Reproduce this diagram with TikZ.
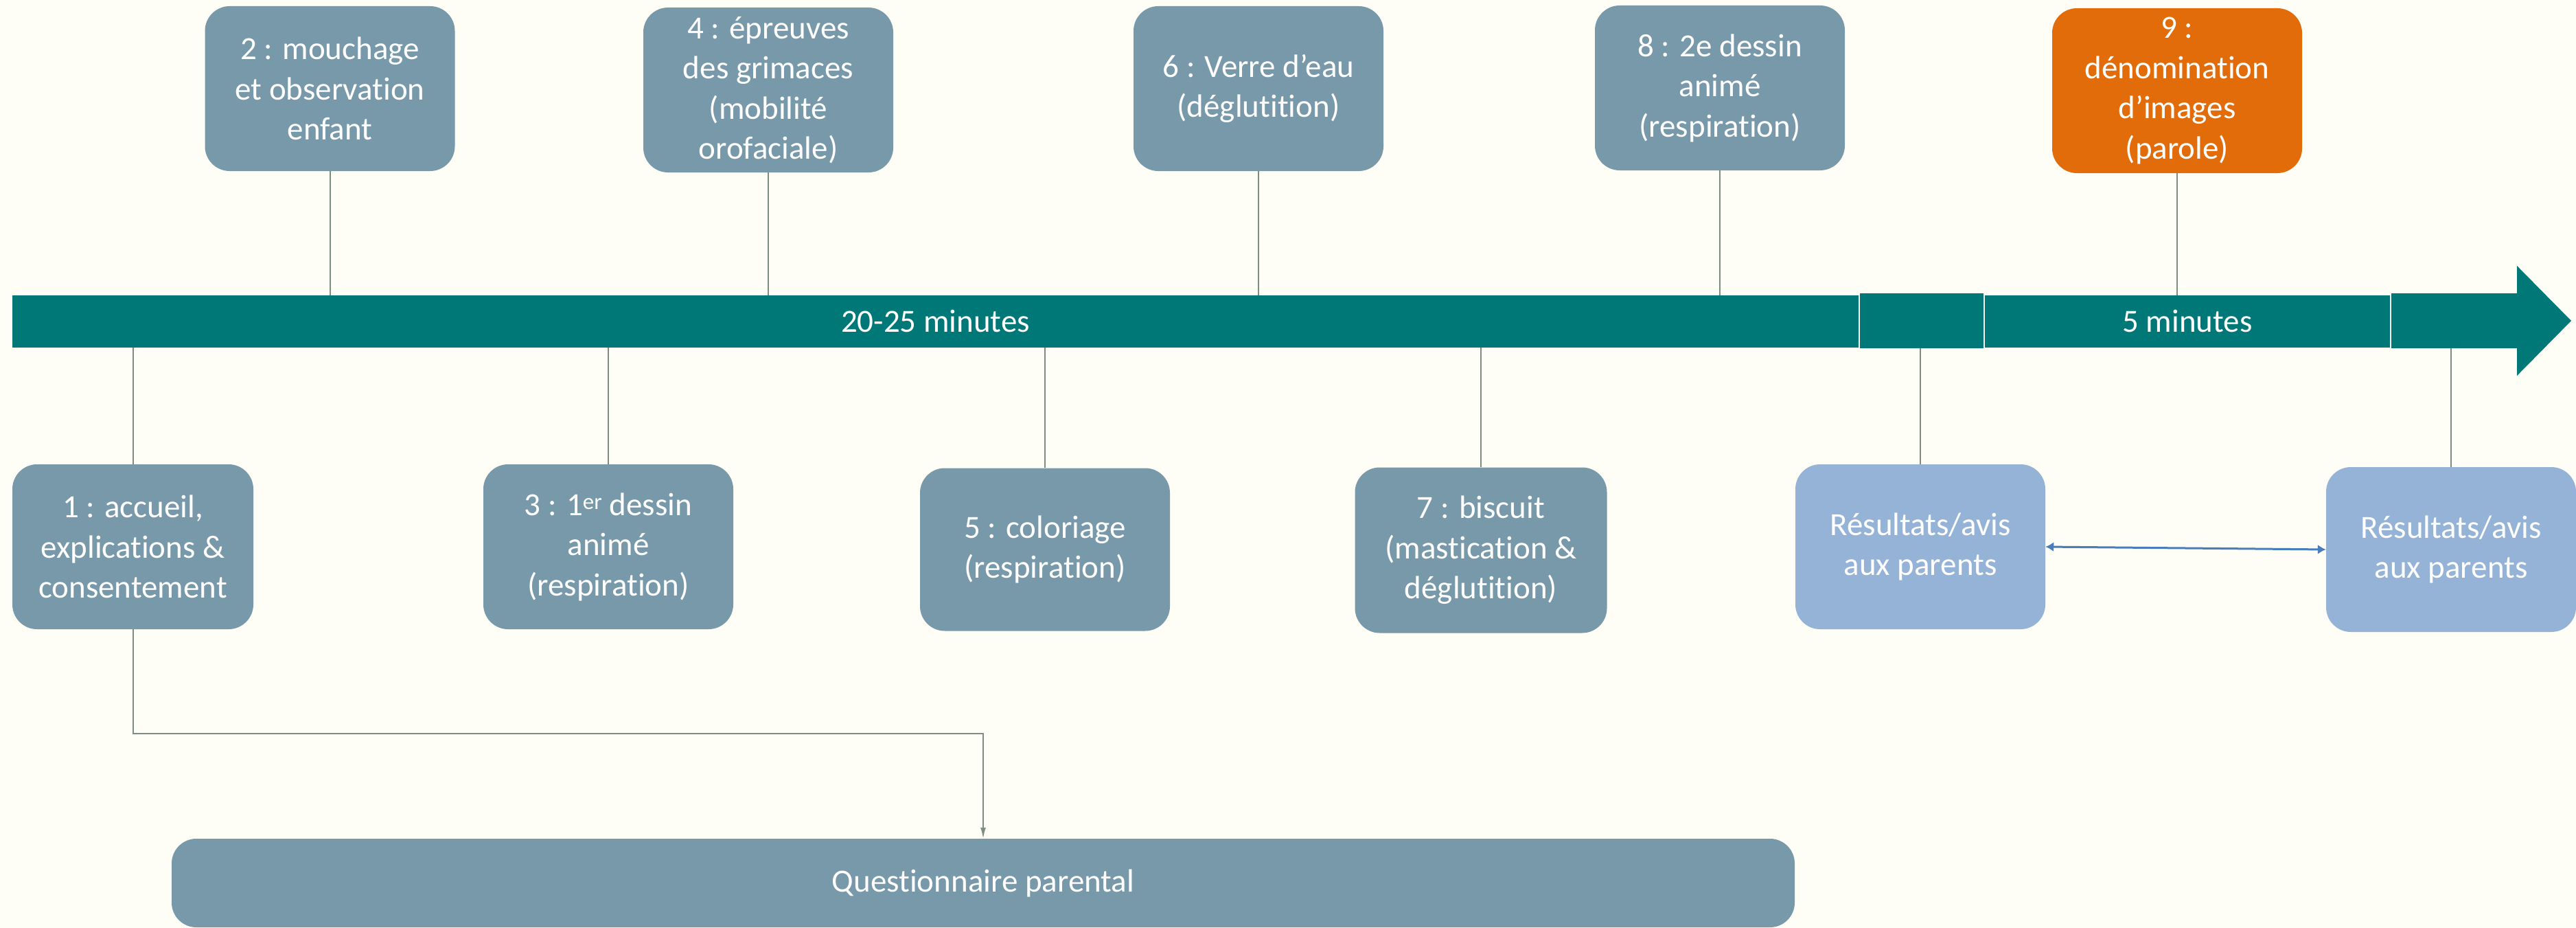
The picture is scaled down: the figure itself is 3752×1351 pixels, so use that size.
\documentclass[tikz,border=0pt]{standalone}
\usepackage{fontspec}
\setmainfont{Carlito}[Ligatures=NoCommon]
\usetikzlibrary{arrows.meta}
\definecolor{bgcream}{HTML}{FEFDF6}
\definecolor{stepgray}{HTML}{7899AA}
\definecolor{barteal}{HTML}{007877}
\definecolor{steporange}{HTML}{E36C0A}
\definecolor{resblue}{HTML}{95B3D7}
\definecolor{connline}{HTML}{7C8E7E}
\definecolor{arrowblue}{HTML}{4A7EBB}
\begin{document}
\begin{tikzpicture}[x=1pt,y=-1pt,
  txt/.style={text=white, align=center, font=\fontsize{47}{58.5}\selectfont, inner sep=0pt},
  stepbox/.style={txt, fill=stepgray, rounded corners=36pt, minimum width=364pt, minimum height=240pt},
  orangebox/.style={stepbox, fill=steporange},
  resbox/.style={stepbox, fill=resblue},
  barseg/.style={txt, fill=barteal, minimum height=76pt},
  conn/.style={draw=connline, line width=2pt}]

% canvas
\fill[bgcream] (0,0) rectangle (3752,1351);
\useasboundingbox (0,0) rectangle (3752,1351);

% time axis
\node[barseg, minimum width=2689pt] (s1) at (1362.5,468) {\raisebox{-4pt}{20-25 minutes}};
\node[barseg, minimum width=180pt, minimum height=80pt] (s2) at (2799,467) {};
\node[barseg, minimum width=590pt] (s3) at (3186,468) {\raisebox{-4pt}{5 minutes}};
\node[barseg, minimum width=183pt, minimum height=80pt] (s4) at (3574.5,467) {};
\fill[barteal] (s4.north east) -- (3666,387) -- (3745,467) -- (3666,547) -- (s4.south east) -- cycle;

% steps above the axis
\node[stepbox] (b2) at (480.5,129) {2 : mouchage\\et observation\\enfant};
\node[stepbox] (b4) at (1119,131) {4 : épreuves\\des grimaces\\(mobilité\\orofaciale)};
\node[stepbox] (b6) at (1833,129) {6 : Verre d’eau\\(déglutition)};
\node[stepbox] (b8) at (2505,128) {8 : 2e dessin\\animé\\(respiration)};
\node[orangebox] (b9) at (3171,132) {9 :\\dénomination\\d’images\\(parole)};

% steps below the axis
\node[stepbox, minimum width=351pt] (b1) at (193.5,796) {1 : accueil,\\explications \&\\consentement};
\node[stepbox] (b3) at (886,796) {3 : 1\textsuperscript{er} dessin\\animé\\(respiration)};
\node[stepbox, minimum height=237pt] (b5) at (1522,800) {5 : coloriage\\(respiration)};
\node[stepbox, minimum width=367pt, minimum height=241pt] (b7) at (2157,801) {7 : biscuit\\(mastication \&\\déglutition)};
\node[resbox] (r1) at (2797,796) {Résultats/avis\\aux parents};
\node[resbox] (r2) at (3570,800) {Résultats/avis\\aux parents};

% questionnaire
\node[stepbox, minimum width=2364pt, minimum height=129pt] (q) at (1432,1285.5) {Questionnaire parental};

% ticks to the axis
\draw[conn] (b2.south) -- (b2.south |- s1.north);
\draw[conn] (b4.south) -- (b4.south |- s1.north);
\draw[conn] (b6.south) -- (b6.south |- s1.north);
\draw[conn] (b8.south) -- (b8.south |- s1.north);
\draw[conn] (b9.south) -- (b9.south |- s3.north);
\draw[conn] (b1.north) -- (b1.north |- s1.south);
\draw[conn] (b3.north) -- (b3.north |- s1.south);
\draw[conn] (b5.north) -- (b5.north |- s1.south);
\draw[conn] (b7.north) -- (b7.north |- s1.south);
\draw[conn] (r1.north) -- (r1.north |- s2.south);
\draw[conn] (r2.north) -- (r2.north |- s4.south);

% links
\draw[conn, -{Latex[length=16pt,width=8pt]}] (b1.south) -- ++(0,152) -| (q.north);
\draw[arrowblue, line width=3pt, {Latex[length=12pt,width=14pt]}-{Latex[length=12pt,width=14pt]}] (r1.east) -- (r2.west);
\end{tikzpicture}
\end{document}
